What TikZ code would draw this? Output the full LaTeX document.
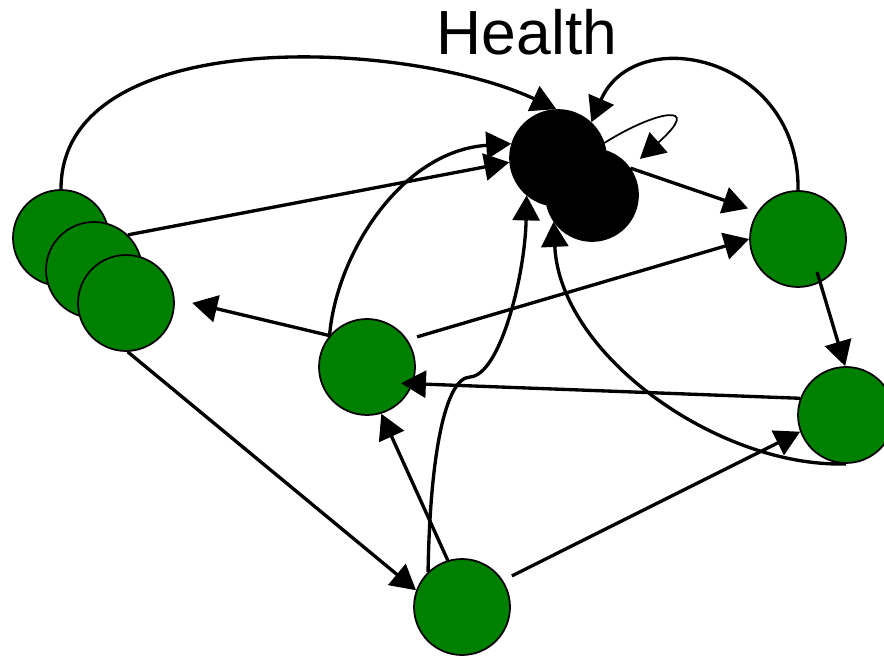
\documentclass[tikz,border=0pt]{standalone}
\usepackage{fontspec}
\setmainfont{Liberation Sans}
\usetikzlibrary{arrows.meta,calc}
\definecolor{leafgreen}{HTML}{008000}
\begin{document}
\begin{tikzpicture}[x=0.02cm, y=0.02cm,
	blob/.style={circle, draw=black, line width=1pt, minimum size=1.92cm, inner sep=0pt},
	link/.style={line width=1.9pt, -{Triangle[length=0.5cm, width=0.54cm]}}]
	
	\def \cgreen{leafgreen}
	\def \chealth{black}
	
	\useasboundingbox (0,0) rectangle (884,656);
	
	% HEALTH
	\node[anchor=base] (label) at (527,601) {\fontsize{35.5}{40}\selectfont Health};
	\node[blob, fill=\chealth] (h1) at (558,498) {};
	\node[blob, fill=\chealth, minimum size=1.84cm] (h2) at (592,461) {};
	
	% OTHER NODES
	\node[blob, fill=\cgreen] (l1) at (61,418) {};
	\node[blob, fill=\cgreen] (l2) at (94,386) {};
	\node[blob, fill=\cgreen] (l3) at (126,353) {};
	\node[blob, fill=\cgreen] (mid) at (367,289) {};
	\node[blob, fill=\cgreen] (rt) at (798,417) {};
	\node[blob, fill=\cgreen] (rl) at (846,241) {};
	\node[blob, fill=\cgreen] (bot) at (462,49) {};
	
	% LINKS INTO HEALTH
	\draw[link] (l1.90) .. controls (61,633) and (406,617) .. (h1.92);
	\draw[link] (l2.46) -- (h1.185);
	\draw[link] (mid.140) .. controls (336,400) and (400,505) .. (h1.163);
	\draw[link] (bot.134) .. controls (430,200) and (445,278) .. (470,279)
		.. controls (500,281) and (525,380) .. (h1.230);
	\draw[link] (rl.270) .. controls (720,188) and (560,300) .. (h2.215);
	\draw[link] (rt.90) .. controls (800,600) and (635,635) .. (h1.47);
	\draw[link, line width=1pt] (h1.18) .. controls (655,545) and (705,555) .. ($(h2)+(37:1.2cm)$);
	
	% OTHER LINKS
	\draw[link, shorten >=0.2cm] (h2.35) -- (rt.146);
	\draw[link, shorten <=-0.22cm] (rt.-63) -- (rl.91);
	\draw[link, shorten <=0.2cm] (mid.34) -- (rt.180);
	\draw[link, shorten >=-0.24cm] (rl.160) -- (mid.-20);
	\draw[link, shorten >=0.36cm] (mid.140) -- (l3.5);
	\draw[link] (l3.-88) -- (bot.160);
	\draw[link] (bot.107) -- (mid.-73);
	\draw[link, shorten <=0.2cm] (bot.33) -- (rl.200);
	
\end{tikzpicture}
\end{document}
